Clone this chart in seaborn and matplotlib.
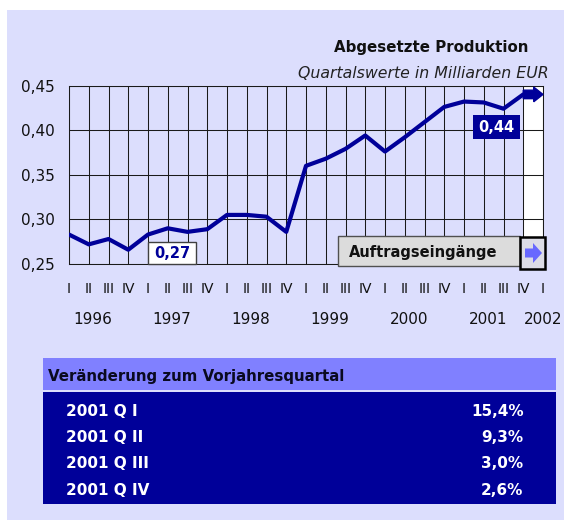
import matplotlib
matplotlib.use("Agg")
import matplotlib.pyplot as plt
import seaborn as sns
import pandas as pd
from matplotlib.patches import Rectangle, Polygon

# ---------------- data ----------------
quarter_labels = ["I", "II", "III", "IV"] * 6 + ["I"]
years = ["1996", "1997", "1998", "1999", "2000", "2001", "2002"]
production = [0.283, 0.272, 0.278, 0.266, 0.283, 0.290, 0.286, 0.289,
              0.305, 0.305, 0.303, 0.286, 0.360, 0.368, 0.379, 0.394,
              0.376, 0.392, 0.409, 0.426, 0.432, 0.431, 0.424, 0.440]
y_ticks = [0.25, 0.30, 0.35, 0.40, 0.45]
table_rows = ["2001 Q I", "2001 Q II", "2001 Q III", "2001 Q IV"]
table_values = ["15,4%", "9,3%", "3,0%", "2,6%"]
label_first = "0,27"
label_last = "0,44"
title = "Abgesetzte Produktion"
subtitle = "Quartalswerte in Milliarden EUR"
legend_label = "Auftragseingänge"
table_title = "Veränderung zum Vorjahresquartal"

# ---------------- style ----------------
sns.set_style("white")
plt.rcParams["font.family"] = ["DejaVu Sans"]

LAV = "#DCDEFD"
NAVY = "#000099"
HEAD = "#8080FF"
W, H = 564, 522

fig = plt.figure(figsize=(W / 100, H / 100), dpi=100)
fig.patch.set_facecolor("white")

# background / pixel-coordinate axes
bg = fig.add_axes([0, 0, 1, 1])
bg.set_xlim(0, W)
bg.set_ylim(H, 0)
bg.axis("off")
bg.set_zorder(0)
bg.add_patch(Rectangle((7, 10), W - 7, 510, facecolor=LAV, edgecolor="none"))

bg.text(528, 47.5, title, ha="right", va="center", fontsize=10.8,
        fontweight="bold", color="#111111")
bg.text(549, 73, subtitle, ha="right", va="center", fontsize=11.3,
        style="italic", color="#222222")

# table
bg.add_patch(Rectangle((43.3, 358.3), 512.4, 31.7, facecolor=HEAD, edgecolor="none"))
bg.add_patch(Rectangle((43.3, 391.7), 512.4, 112.6, facecolor=NAVY, edgecolor="none"))
bg.text(48, 376.5, table_title, ha="left", va="center", fontsize=10.8,
        fontweight="bold", color="#0a0a20")
row_y0, row_dy = 411, 26.4
for i, (r, v) in enumerate(zip(table_rows, table_values)):
    yy = row_y0 + i * row_dy
    bg.text(65.7, yy, r, ha="left", va="center", fontsize=11,
            fontweight="bold", color="white")
    bg.text(523.5, yy, v, ha="right", va="center", fontsize=11,
            fontweight="bold", color="white")

# ---------------- main chart ----------------
left, right, top, bottom = 69, 543, 85.5, 264
ax = fig.add_axes([left / W, 1 - bottom / H, (right - left) / W, (bottom - top) / H])
ax.set_zorder(1)
ax.patch.set_alpha(0)

n = len(quarter_labels)
ax.set_xlim(0, n - 1)
ax.set_ylim(y_ticks[0], y_ticks[-1])
ax.axvspan(n - 2, n - 1, color="white", zorder=0, lw=0)

for x in range(n):
    ax.axvline(x, color="#1a1a1a", lw=0.75, zorder=1)
for y in y_ticks:
    ax.axhline(y, color="#1a1a1a", lw=0.75, zorder=1)
for s in ax.spines.values():
    s.set_color("#1a1a1a")
    s.set_linewidth(0.75)

df = pd.DataFrame({"idx": list(range(len(production))), "value": production})
sns.lineplot(data=df, x="idx", y="value", ax=ax, color=NAVY, linewidth=3.0,
             zorder=3)
ax.set_xlabel("")
ax.set_ylabel("")

# arrow at the end of the line
ax.arrow(len(production) - 1, production[-1], 1.0, 0,
         width=0.0095, head_width=0.0165, head_length=0.47,
         length_includes_head=True, fc=NAVY, ec=NAVY, clip_on=False, zorder=4)

ax.set_yticks(y_ticks)
ax.set_yticklabels([f"{t:.2f}".replace(".", ",") for t in y_ticks], fontsize=11,
                   color="#111111")
ax.set_xticks(range(n))
ax.set_xticklabels(quarter_labels, fontsize=10, color="#111111")
ax.tick_params(axis="both", length=0)
ax.tick_params(axis="y", pad=10)
ax.tick_params(axis="x", pad=13)

ytr = ax.get_xaxis_transform()
yr_y = -(319 - bottom) / (bottom - top)
for i, yl in enumerate(years):
    xpos = 4 * i + 1.2 if i < len(years) - 1 else n - 1
    ax.text(xpos, yr_y, yl, transform=ytr, ha="center", va="center",
            fontsize=11, color="#111111")

# ---------------- overlay (labels, legend) ----------------
ov = fig.add_axes([0, 0, 1, 1])
ov.set_xlim(0, W)
ov.set_ylim(H, 0)
ov.axis("off")
ov.set_zorder(2)
ov.patch.set_alpha(0)

ov.add_patch(Rectangle((148.3, 242), 47.7, 22, facecolor="white",
                       edgecolor="#404040", lw=1))
ov.text(172.2, 253.5, label_first, ha="center", va="center", fontsize=10.5,
        fontweight="bold", color=NAVY)

ov.add_patch(Rectangle((473, 115), 47, 24, facecolor=NAVY, edgecolor="none"))
ov.text(496.5, 127.5, label_last, ha="center", va="center", fontsize=10.5,
        fontweight="bold", color="white")

ov.add_patch(Rectangle((338, 236), 182, 30, facecolor="#DCDCDC",
                       edgecolor="#505050", lw=1))
ov.text(348.5, 252, legend_label, ha="left", va="center", fontsize=10.5,
        fontweight="bold", color="#111111")
ov.add_patch(Rectangle((519.5, 236.5), 25, 32, facecolor="#DCDCE6",
                       edgecolor="black", lw=1.8))
ov.add_patch(Polygon([(525, 248.5), (533, 248.5), (533, 243), (542, 253),
                      (533, 263), (533, 257.5), (525, 257.5)],
                     closed=True, facecolor="#6868FF", edgecolor="none"))

fig.savefig("out.png", dpi=100)
